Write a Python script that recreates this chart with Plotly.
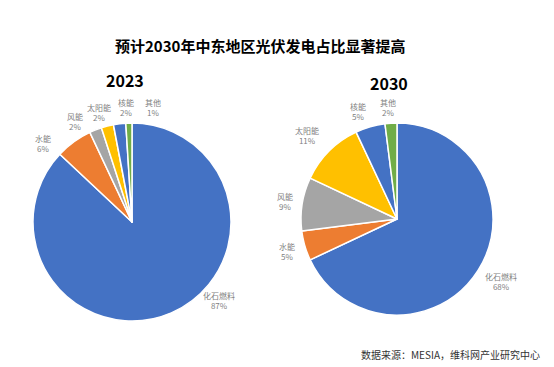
import plotly.graph_objects as go

# ---- data ----
categories = ["化石燃料", "水能", "风能", "太阳能", "核能", "其他"]
share_2023 = [87, 6, 2, 2, 2, 1]
share_2030 = [68, 5, 9, 11, 5, 2]
years = ["2023", "2030"]
colors = ["#4472C4", "#ED7D31", "#A5A5A5", "#FFC000", "#4472C4", "#70AD47"]

title_text = "预计2030年中东地区光伏发电占比显著提高"
source_text = "数据来源：MESIA，维科网产业研究中心"

# window size and page offset (default body margin of the html page)
W, H = 554, 367
OFF = 8
FW, FH = W - OFF, H - OFF
FONT = "Noto Sans CJK SC"


def px_x(x):
    return (x - OFF) / FW


def px_y(y):
    return 1 - (y - OFF) / FH


# ---- layout (pixel positions in the window) ----
pie_boxes = [  # left, right, top, bottom in px
    (33, 231, 123, 321),
    (301, 493, 123, 315),
]
year_title_pos = [(125, 80), (389, 83)]
label_pos = [
    [(219, 300), (43, 143), (75, 121), (99, 112), (126, 107), (153, 107)],
    [(501, 281), (287, 251), (285, 202), (307, 136), (358, 111), (388, 107)],
]

fig = go.Figure()
for i, vals in enumerate([share_2023, share_2030]):
    l, r, t, b = pie_boxes[i]
    fig.add_trace(go.Pie(
        labels=categories,
        values=vals,
        sort=False,
        direction="clockwise",
        rotation=0,
        marker=dict(colors=colors, line=dict(color="white", width=1.5)),
        textinfo="none",
        hoverinfo="label+percent",
        showlegend=False,
        domain=dict(x=[px_x(l), px_x(r)], y=[px_y(b), px_y(t)]),
    ))
    for j, (cat, v) in enumerate(zip(categories, vals)):
        lx, ly = label_pos[i][j]
        fig.add_annotation(
            x=px_x(lx), y=px_y(ly), xref="paper", yref="paper",
            text=f"{cat}<br>{v}%", showarrow=False,
            font=dict(family=FONT, size=8, color="#7F7F7F"),
            xanchor="center", yanchor="middle", align="center",
        )
    tx, ty = year_title_pos[i]
    fig.add_annotation(
        x=px_x(tx), y=px_y(ty), xref="paper", yref="paper",
        text=f"<b>{years[i]}</b>", showarrow=False,
        font=dict(family=FONT, size=16, color="#000000"),
        xanchor="center", yanchor="middle",
    )

fig.add_annotation(
    x=px_x(260), y=px_y(46), xref="paper", yref="paper",
    text=f"<b>{title_text}</b>", showarrow=False,
    font=dict(family=FONT, size=15, color="#000000"),
    xanchor="center", yanchor="middle",
)
fig.add_annotation(
    x=px_x(542), y=px_y(354), xref="paper", yref="paper",
    text=source_text, showarrow=False,
    font=dict(family=FONT, size=10, color="#333333"),
    xanchor="right", yanchor="middle",
)

fig.update_layout(
    width=FW, height=FH,
    margin=dict(l=0, r=0, t=0, b=0),
    paper_bgcolor="white", plot_bgcolor="white",
)
fig.write_html("out.html")
